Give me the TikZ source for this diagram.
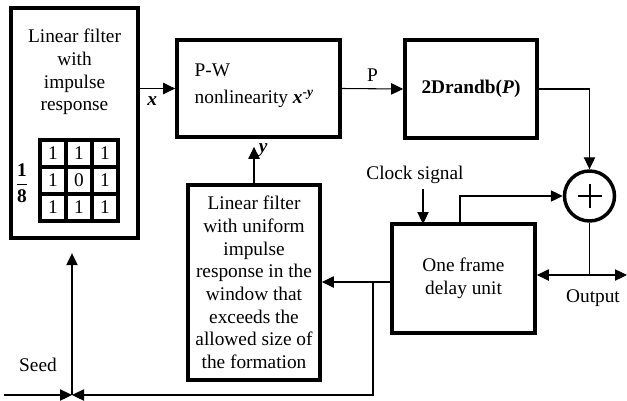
\documentclass[tikz,border=0pt]{standalone}
\usepackage{fontspec}
\setmainfont{Liberation Serif}
\usetikzlibrary{positioning,calc,arrows.meta}

\begin{document}
\begin{tikzpicture}[x=0.75pt, y=-0.75pt,
    font=\fontsize{14.5}{17}\selectfont,
    block/.style={draw, line width=2.8pt, align=center, inner sep=0pt},
    wire/.style={line width=0.8pt},
    arr/.style={wire, -{Triangle[length=9pt, width=8.5pt]}}]
    \useasboundingbox (0,0) rectangle (627,400);

    % blocks
    \node [block, minimum width=95.25pt, minimum height=172.5pt] (lf1) at (74.5,123) {};
    \node [align=center] (lf1txt) at (74.5,72) {Linear filter\\with\\impulse\\response};
    \node [block, minimum width=122.25pt, minimum height=72.75pt] (pw) at (258.5,88.5) {};
    \node [anchor=west, align=left] (pwtxt) at (190,86) {P-W\\[3pt]nonlinearity \textbf{\textit{x}}\textsuperscript{\textbf{\textit{-y}}}};
    \node [block, minimum width=99pt, minimum height=73.5pt] (rnd) at (471,89) {\textbf{2Drandb(\textit{P})}};
    \node [block, minimum width=99pt, minimum height=146.25pt] (lf2) at (254,282.5)
        {Linear filter\\with uniform\\impulse\\response in the\\window that\\exceeds the\\allowed size of\\the formation};
    \node [block, minimum width=107.25pt, minimum height=81.75pt] (dly) at (463.5,278.5) {One frame\\delay unit};
    \node [draw, circle, line width=2.6pt, minimum size=37.5pt, inner sep=0pt] (sum) at (589.5,196) {};
    \draw [line width=1.5pt] (sum.center) ++(-12,0) -- ++(24,0);
    \draw [line width=1.5pt] (sum.center) ++(0,-12) -- ++(0,24);

    % impulse response 3x3
    \draw [line width=2.5pt] (40,140) rectangle (118,221);
    \foreach \i in {1,2} {
        \draw [line width=2.5pt] (40+26*\i,140) -- (40+26*\i,221);
        \draw [line width=2.5pt] (40,140+27*\i) -- (118,140+27*\i);
    }
    \foreach \v [count=\k from 0] in {1,1,1,1,0,1,1,1,1} {
        \pgfmathtruncatemacro{\r}{div(\k,3)}
        \pgfmathtruncatemacro{\c}{mod(\k,3)}
        \node (m\k) at (53+26*\c,153.5+27*\r) {\v};
    }
    \node (frac) at (22,183) {$\displaystyle\frac{\textbf{1}}{\textbf{8}}$};

    % labels
    \node (clk) at (415,175) {Clock signal};
    \node (out) at (593,298) {Output};
    \node (seed) at (38,365) {Seed};
    \coordinate (ck) at (423,224);
    \coordinate (o) at (589.5,275);
    \coordinate (oend) at (627,275);
    \coordinate (sp) at (373,282);
    \coordinate (j) at (72,395);
    \coordinate (sin) at (4,395);
    \coordinate (tap) at (589.5,89);

    % connectors
    \draw [arr] (lf1.east |- pw.west) -- node[pos=0.35, below=2pt] {\textbf{\textit{x}}} (pw.west);
    \draw [arr] (pw.east) -- node[above=2pt] {P} (rnd.west);
    \draw [arr] (rnd.east) -- (tap) -- (sum.north);
    \draw [arr] (ck |- clk.south) -- (ck);
    \draw [arr] (dly.north -| 460,0) |- (sum.west);
    \draw [wire] (sum.south) -- (o);
    \draw [arr] (o) -- (dly.east |- o);
    \draw [arr] (o) -- (oend);
    \draw [wire] (dly.west |- sp) -- (sp);
    \draw [arr] (sp) -- (lf2.east |- sp);
    \draw [arr] (sp) |- (j);
    \draw [arr] (sin) -- (j);
    \draw [arr, shorten >=10pt] (j) -- (lf1.south -| j);
    \draw [arr, shorten >=6pt] (lf2.north) -- node[pos=0.75, right] {\textbf{\textit{y}}} (lf2.north |- pw.south);
\end{tikzpicture}
\end{document}
